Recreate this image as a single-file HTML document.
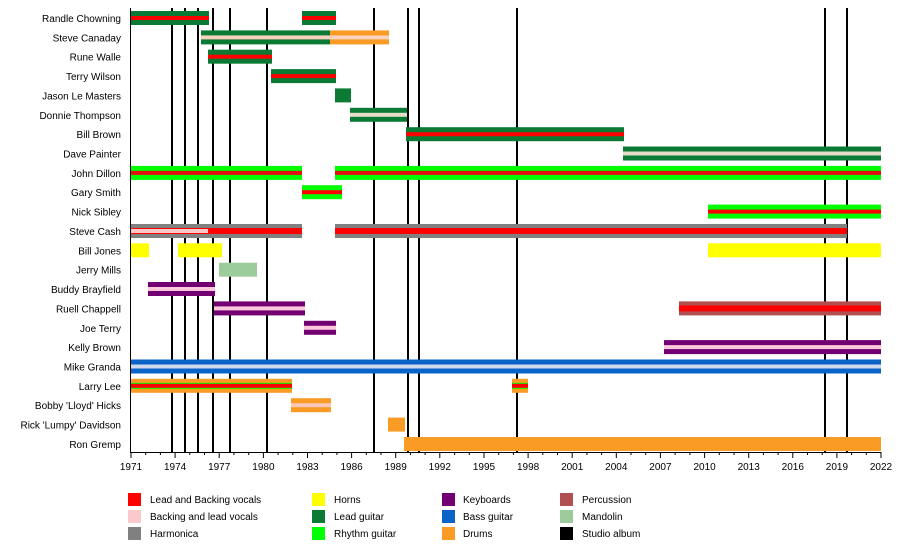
<!DOCTYPE html>
<html><head><meta charset="utf-8"><style>
body{margin:0;background:#fff;}
svg{display:block;font-family:"Liberation Sans",Arial,sans-serif;}
</style></head><body>
<svg width="900" height="550" viewBox="0 0 900 550" xmlns="http://www.w3.org/2000/svg">
<g stroke="#000" stroke-width="2">
<line x1="172" y1="8" x2="172" y2="452"/><line x1="185" y1="8" x2="185" y2="452"/><line x1="198" y1="8" x2="198" y2="452"/><line x1="213" y1="8" x2="213" y2="452"/><line x1="230" y1="8" x2="230" y2="452"/><line x1="267" y1="8" x2="267" y2="452"/><line x1="374" y1="8" x2="374" y2="452"/><line x1="408" y1="8" x2="408" y2="452"/><line x1="419" y1="8" x2="419" y2="452"/><line x1="517" y1="8" x2="517" y2="452"/><line x1="825" y1="8" x2="825" y2="452"/><line x1="847" y1="8" x2="847" y2="452"/>
</g>
<g>
<!-- Randle -->
<rect x="131" y="11" width="78" height="14" fill="#0b7a35"/><rect x="131" y="16" width="78" height="4" fill="#f00"/>
<rect x="302" y="11" width="34" height="14" fill="#0b7a35"/><rect x="302" y="16" width="34" height="4" fill="#f00"/>
<!-- Canaday -->
<rect x="201" y="30.4" width="129" height="14" fill="#0b7a35"/><rect x="201" y="35.4" width="129" height="4" fill="#f7d2bc"/>
<rect x="330" y="30.4" width="59" height="14" fill="#f99b25"/><rect x="330" y="35.4" width="59" height="4" fill="#f9d3bd"/>
<!-- Rune -->
<rect x="208" y="49.7" width="64" height="14" fill="#0b7a35"/><rect x="208" y="54.7" width="64" height="4" fill="#f00"/>
<!-- Terry -->
<rect x="271" y="69.1" width="65" height="14" fill="#0b7a35"/><rect x="271" y="74.1" width="65" height="4" fill="#f00"/>
<!-- Jason -->
<rect x="335" y="88.4" width="16" height="14" fill="#0b7a35"/>
<!-- Donnie -->
<rect x="350" y="107.8" width="57" height="14" fill="#0b7a35"/><rect x="350" y="112.8" width="57" height="4" fill="#e6dccb"/>
<!-- Bill Brown -->
<rect x="406" y="127.2" width="218" height="14" fill="#0b7a35"/><rect x="406" y="132.2" width="218" height="4" fill="#f00"/>
<!-- Dave -->
<rect x="623" y="146.5" width="258" height="14" fill="#0b7a35"/><rect x="623" y="151.5" width="258" height="4" fill="#e6dccb"/>
<!-- John Dillon -->
<rect x="131" y="165.9" width="171" height="14" fill="#0f0"/><rect x="131" y="170.9" width="171" height="4" fill="#e01010"/>
<rect x="335" y="165.9" width="546" height="14" fill="#0f0"/><rect x="335" y="170.9" width="546" height="4" fill="#e01010"/>
<!-- Gary -->
<rect x="302" y="185.2" width="40" height="14" fill="#0f0"/><rect x="302" y="190.2" width="40" height="4" fill="#f00"/>
<!-- Nick -->
<rect x="708" y="204.6" width="173" height="14" fill="#0f0"/><rect x="708" y="209.6" width="173" height="4" fill="#f00"/>
<!-- Steve Cash -->
<rect x="131" y="224" width="171" height="14" fill="#808080"/><rect x="131" y="228" width="171" height="6" fill="#f00"/><rect x="131" y="229" width="77" height="4" fill="#fbc8c8"/>
<rect x="335" y="224" width="512" height="14" fill="#808080"/><rect x="335" y="228" width="512" height="6" fill="#f00"/>
<!-- Bill Jones -->
<rect x="131" y="243.3" width="18" height="14" fill="#ff0"/><rect x="178" y="243.3" width="44" height="14" fill="#ff0"/><rect x="708" y="243.3" width="173" height="14" fill="#ff0"/>
<!-- Jerry -->
<rect x="219" y="262.7" width="38" height="14" fill="#9ccc9c"/>
<!-- Buddy -->
<rect x="148" y="282" width="67" height="14" fill="#730073"/><rect x="148" y="287" width="67" height="4" fill="#fbc8dc"/>
<!-- Ruell -->
<rect x="214" y="301.4" width="91" height="14" fill="#730073"/><rect x="214" y="306.4" width="91" height="4" fill="#fbc8dc"/>
<rect x="679" y="301.4" width="202" height="14" fill="#b05050"/><rect x="679" y="305.4" width="202" height="6" fill="#f00"/>
<!-- Joe -->
<rect x="304" y="320.8" width="32" height="14" fill="#730073"/><rect x="304" y="325.8" width="32" height="4" fill="#fbc8dc"/>
<!-- Kelly -->
<rect x="664" y="340.1" width="217" height="14" fill="#730073"/><rect x="664" y="345.1" width="217" height="4" fill="#fbc8dc"/>
<!-- Mike -->
<rect x="131" y="359.5" width="750" height="14" fill="#0a64c8"/><rect x="131" y="364.5" width="750" height="4" fill="#d0d8ee"/>
<!-- Larry -->
<rect x="131" y="378.8" width="161" height="14" fill="#f99b25"/><rect x="131" y="382.8" width="161" height="6" fill="#0f0"/><rect x="131" y="383.8" width="161" height="4" fill="#f00"/>
<rect x="512" y="378.8" width="16" height="14" fill="#f99b25"/><rect x="512" y="382.8" width="16" height="6" fill="#0f0"/><rect x="512" y="383.8" width="16" height="4" fill="#f00"/>
<!-- Bobby -->
<rect x="291" y="398.2" width="40" height="14" fill="#f99b25"/><rect x="291" y="403.2" width="40" height="4" fill="#f9c8b8"/>
<!-- Rick -->
<rect x="388" y="417.6" width="17" height="14" fill="#f99b25"/>
<!-- Ron -->
<rect x="404" y="437" width="477" height="14" fill="#f99b25"/>
</g>
<g font-size="10" fill="#000" text-anchor="end">
<text x="121" y="22">Randle Chowning</text><text x="121" y="41.4">Steve Canaday</text><text x="121" y="60.7">Rune Walle</text><text x="121" y="80.1">Terry Wilson</text><text x="121" y="99.4">Jason Le Masters</text><text x="121" y="118.8">Donnie Thompson</text><text x="121" y="138.2">Bill Brown</text><text x="121" y="157.5">Dave Painter</text><text x="121" y="176.9">John Dillon</text><text x="121" y="196.2">Gary Smith</text><text x="121" y="215.6">Nick Sibley</text><text x="121" y="235">Steve Cash</text><text x="121" y="254.3">Bill Jones</text><text x="121" y="273.7">Jerry Mills</text><text x="121" y="293">Buddy Brayfield</text><text x="121" y="312.4">Ruell Chappell</text><text x="121" y="331.8">Joe Terry</text><text x="121" y="351.1">Kelly Brown</text><text x="121" y="370.5">Mike Granda</text><text x="121" y="389.8">Larry Lee</text><text x="121" y="409.2">Bobby 'Lloyd' Hicks</text><text x="121" y="428.6">Rick 'Lumpy' Davidson</text><text x="121" y="448">Ron Gremp</text>
</g>
<g stroke="#000" stroke-width="1">
<line x1="130.5" y1="8" x2="130.5" y2="452"/>
<line x1="130" y1="452.5" x2="881" y2="452.5"/>
<path d="M131 452v6M175.1 452v6M219.2 452v6M263.4 452v6M307.5 452v6M351.6 452v6M395.7 452v6M439.8 452v6M484 452v6M528.1 452v6M572.2 452v6M616.3 452v6M660.4 452v6M704.6 452v6M748.7 452v6M792.8 452v6M836.9 452v6M881 452v6"/>
<path d="M145.7 452v3M160.4 452v3M189.8 452v3M204.5 452v3M233.9 452v3M248.7 452v3M278.1 452v3M292.8 452v3M322.2 452v3M336.9 452v3M366.3 452v3M381 452v3M410.4 452v3M425.1 452v3M454.6 452v3M469.3 452v3M498.7 452v3M513.4 452v3M542.8 452v3M557.5 452v3M586.9 452v3M601.6 452v3M631 452v3M645.7 452v3M675.1 452v3M689.9 452v3M719.3 452v3M734 452v3M763.4 452v3M778.1 452v3M807.5 452v3M822.2 452v3M851.6 452v3M866.3 452v3"/>
</g>
<g font-size="10" text-anchor="middle">
<text x="131" y="470">1971</text><text x="175.1" y="470">1974</text><text x="219.2" y="470">1977</text><text x="263.4" y="470">1980</text><text x="307.5" y="470">1983</text><text x="351.6" y="470">1986</text><text x="395.7" y="470">1989</text><text x="439.8" y="470">1992</text><text x="484" y="470">1995</text><text x="528.1" y="470">1998</text><text x="572.2" y="470">2001</text><text x="616.3" y="470">2004</text><text x="660.4" y="470">2007</text><text x="704.6" y="470">2010</text><text x="748.7" y="470">2013</text><text x="792.8" y="470">2016</text><text x="836.9" y="470">2019</text><text x="881" y="470">2022</text>
</g>
<g font-size="10">
<rect x="128" y="493" width="13" height="13" fill="#f00"/><text x="150" y="503">Lead and Backing vocals</text>
<rect x="128" y="510" width="13" height="13" fill="#fbc8cc"/><text x="150" y="520">Backing and lead vocals</text>
<rect x="128" y="527" width="13" height="13" fill="#808080"/><text x="150" y="537">Harmonica</text>
<rect x="312" y="493" width="13" height="13" fill="#ff0"/><text x="334" y="503">Horns</text>
<rect x="312" y="510" width="13" height="13" fill="#0b7a35"/><text x="334" y="520">Lead guitar</text>
<rect x="312" y="527" width="13" height="13" fill="#0f0"/><text x="334" y="537">Rhythm guitar</text>
<rect x="442" y="493" width="13" height="13" fill="#730073"/><text x="463" y="503">Keyboards</text>
<rect x="442" y="510" width="13" height="13" fill="#0a64c8"/><text x="463" y="520">Bass guitar</text>
<rect x="442" y="527" width="13" height="13" fill="#f99b25"/><text x="463" y="537">Drums</text>
<rect x="560" y="493" width="13" height="13" fill="#b05050"/><text x="582" y="503">Percussion</text>
<rect x="560" y="510" width="13" height="13" fill="#9ccc9c"/><text x="582" y="520">Mandolin</text>
<rect x="560" y="527" width="13" height="13" fill="#000"/><text x="582" y="537">Studio album</text>
</g>
</svg>
</body></html>
